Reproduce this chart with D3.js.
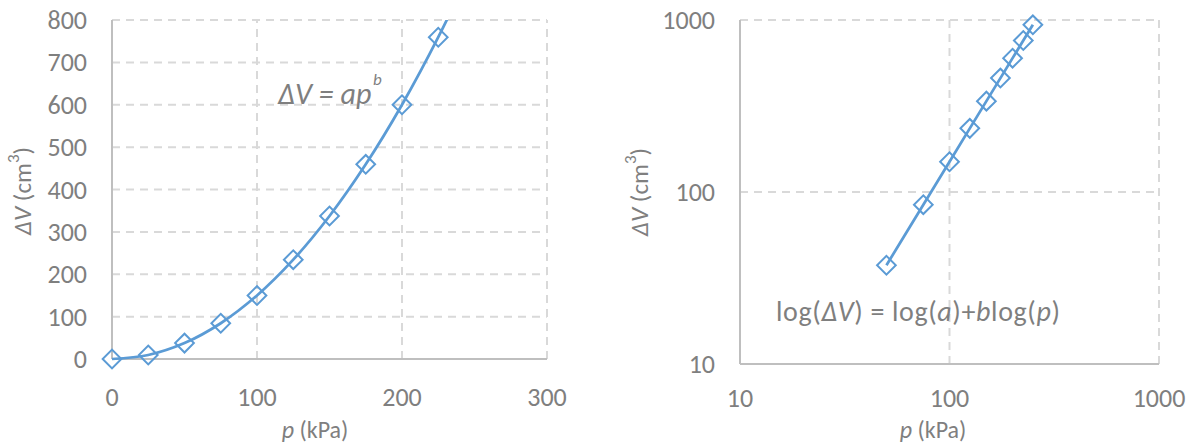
<!DOCTYPE html>
<html>
<head>
<meta charset="utf-8">
<script src="https://cdn.jsdelivr.net/npm/d3@7"></script>
<style>
  html, body { margin: 0; padding: 0; background: #fff; }
  svg { display: block; }
  text { font-family: Carlito, Lato, "Open Sans", sans-serif; fill: #7f7f7f; }
</style>
</head>
<body>
<svg id="chart" width="1191" height="445"></svg>
<script>
// ---- data ----
const pressure = [0, 25, 50, 75, 100, 125, 150, 175, 200, 225, 250];
const volume   = [0, 9.4, 37.5, 84.4, 150, 234.4, 337.5, 459.4, 600, 759.4, 937.5];
const linXTicks = [0, 100, 200, 300];
const linYTicks = [0, 100, 200, 300, 400, 500, 600, 700, 800];
const logXTicks = [10, 100, 1000];
const logYTicks = [10, 100, 1000];

const BLUE = "#5b9bd5";
const AXIS = "#bfbfbf";
const GRID = "#d9d9d9";
const TICK_FS = 26;
const TITLE_FS = 24;

const svg = d3.select("#chart");
const points = pressure.map((p, i) => ({ p, v: volume[i] }));

function diamond(g, pts, x, y) {
  g.selectAll("path.mk").data(pts).join("path")
    .attr("class", "mk")
    .attr("d", d3.symbol(d3.symbolSquare, 175)())
    .attr("transform", d => `translate(${x(d.p)},${y(d.v)}) rotate(45)`)
    .attr("fill", "none")
    .attr("stroke", BLUE)
    .attr("stroke-width", 2);
}

function yTitle(g, cx, cy) {
  const t = g.append("text")
    .attr("transform", `translate(${cx},${cy}) rotate(-90)`)
    .attr("text-anchor", "middle")
    .attr("dominant-baseline", "central")
    .attr("font-size", 25);
  t.append("tspan").attr("font-style", "italic").text("ΔV");
  t.append("tspan").text(" (cm");
  t.append("tspan").attr("font-size", 17).attr("dy", -9).text("3");
  t.append("tspan").attr("dy", 9).text(")");
}

function xTitle(g, cx, cy) {
  const t = g.append("text")
    .attr("x", cx).attr("y", cy)
    .attr("text-anchor", "middle")
    .attr("dominant-baseline", "central")
    .attr("font-size", TITLE_FS);
  t.append("tspan").attr("font-style", "italic").text("p");
  t.append("tspan").text(" (kPa)");
}

function drawFrame(g, x, y, xt, yt, x0, x1, y0, y1, xLabelY, yLabelX) {
  g.selectAll("line.gy").data(yt.filter(d => y(d) !== y0)).join("line")
    .attr("x1", x0).attr("x2", x1)
    .attr("y1", d => y(d)).attr("y2", d => y(d))
    .attr("stroke", GRID).attr("stroke-width", 2).attr("stroke-dasharray", "8,6");
  g.selectAll("line.gx").data(xt.filter(d => x(d) !== x0)).join("line")
    .attr("y1", y0).attr("y2", y1)
    .attr("x1", d => x(d)).attr("x2", d => x(d))
    .attr("stroke", GRID).attr("stroke-width", 2).attr("stroke-dasharray", "8,6");
  g.append("line").attr("x1", x0).attr("x2", x0).attr("y1", y0).attr("y2", y1)
    .attr("stroke", AXIS).attr("stroke-width", 2);
  g.append("line").attr("x1", x0).attr("x2", x1).attr("y1", y0).attr("y2", y0)
    .attr("stroke", AXIS).attr("stroke-width", 2);
  g.selectAll("text.tx").data(xt).join("text")
    .attr("x", d => x(d)).attr("y", xLabelY)
    .attr("text-anchor", "middle").attr("dominant-baseline", "central")
    .attr("font-size", TICK_FS).text(d => d);
  g.selectAll("text.ty").data(yt).join("text")
    .attr("x", yLabelX).attr("y", d => y(d))
    .attr("text-anchor", "end").attr("dominant-baseline", "central")
    .attr("font-size", TICK_FS).text(d => d);
}

// ---- left chart: linear ----
{
  const g = svg.append("g");
  const x = d3.scaleLinear().domain([0, 300]).range([112, 547]);
  const y = d3.scaleLinear().domain([0, 800]).range([359, 20]);
  drawFrame(g, x, y, linXTicks, linYTicks, 112, 547, 359, 20, 397, 87);

  svg.append("defs").append("clipPath").attr("id", "clipL")
    .append("rect").attr("x", 100).attr("y", 20).attr("width", 460).attr("height", 360);
  g.append("path")
    .datum(points)
    .attr("clip-path", "url(#clipL)")
    .attr("d", d3.line().x(d => x(d.p)).y(d => y(d.v)).curve(d3.curveCatmullRom.alpha(0.5)))
    .attr("fill", "none").attr("stroke", BLUE).attr("stroke-width", 2.75);
  diamond(g, points.filter(d => d.v <= 800), x, y);

  yTitle(g, 22, 191);
  xTitle(g, 315, 429);

  g.append("text").attr("x", 278).attr("y", 104)
    .attr("font-size", 30).attr("font-style", "italic").text("ΔV = ap");
  g.append("text").attr("x", 373).attr("y", 85).attr("font-size", 17)
    .attr("font-style", "italic").text("b");
}

// ---- right chart: log-log ----
{
  const g = svg.append("g");
  const x = d3.scaleLog().domain([10, 1000]).range([740, 1159]);
  const y = d3.scaleLog().domain([10, 1000]).range([364, 20]);
  drawFrame(g, x, y, logXTicks, logYTicks, 740, 1159, 364, 20, 398, 715);

  const pts = points.filter(d => d.p >= 10 && d.v >= 10);
  g.append("path")
    .datum(pts)
    .attr("d", d3.line().x(d => x(d.p)).y(d => y(d.v)).curve(d3.curveCatmullRom.alpha(0.5)))
    .attr("fill", "none").attr("stroke", BLUE).attr("stroke-width", 2.75);
  diamond(g, pts, x, y);

  yTitle(g, 639, 192);
  xTitle(g, 933, 429);

  const t = g.append("text").attr("x", 776).attr("y", 321).attr("font-size", 28)
    .attr("textLength", 284).attr("lengthAdjust", "spacing");
  t.append("tspan").text("log(");
  t.append("tspan").attr("font-style", "italic").text("ΔV");
  t.append("tspan").text(") = log(");
  t.append("tspan").attr("font-style", "italic").text("a");
  t.append("tspan").text(")+");
  t.append("tspan").attr("font-style", "italic").text("b");
  t.append("tspan").text("log(");
  t.append("tspan").attr("font-style", "italic").text("p");
  t.append("tspan").text(")");
}
</script>
</body>
</html>
